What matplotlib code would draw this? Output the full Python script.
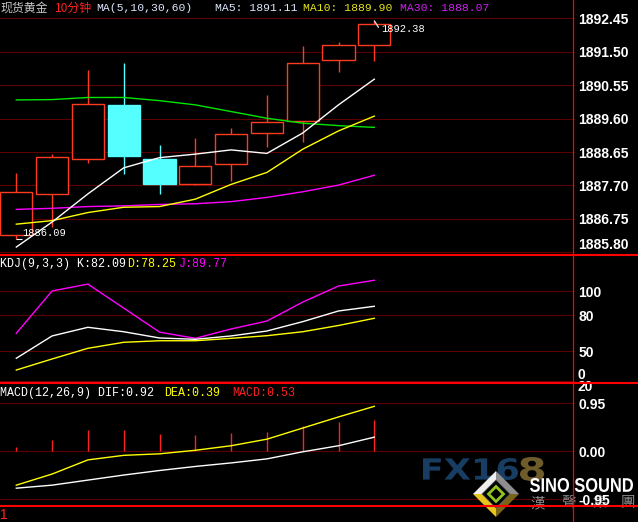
import matplotlib
matplotlib.use('Agg')
import matplotlib.pyplot as plt
from matplotlib.patches import Polygon, PathPatch
from matplotlib.textpath import TextPath
from matplotlib.font_manager import FontProperties
from matplotlib.transforms import Affine2D
from matplotlib.lines import Line2D

# ---------------- data ----------------
opens  = [1886.28, 1887.45, 1888.46, 1889.99, 1888.45, 1887.75, 1888.32, 1889.20, 1889.52, 1891.27, 1891.68]
closes = [1887.51, 1888.50, 1890.01, 1888.55, 1887.75, 1888.25, 1889.15, 1889.49, 1891.18, 1891.68, 1892.28]
highs  = [1888.05, 1888.59, 1890.98, 1891.18, 1888.85, 1889.06, 1889.33, 1890.27, 1891.66, 1891.78, 1892.38]
lows   = [1886.17, 1886.53, 1888.35, 1888.03, 1887.47, 1887.71, 1887.83, 1888.80, 1888.94, 1890.93, 1891.25]

ma5  = [1885.95, 1886.66, 1887.46, 1888.20, 1888.49, 1888.59, 1888.71, 1888.61, 1889.19, 1889.99, 1890.72]
ma10 = [1886.60, 1886.70, 1886.93, 1887.08, 1887.10, 1887.31, 1887.73, 1888.07, 1888.73, 1889.25, 1889.67]
ma30 = [1887.02, 1887.05, 1887.10, 1887.12, 1887.16, 1887.18, 1887.24, 1887.36, 1887.52, 1887.71, 1887.99]
ma60 = [1890.13, 1890.14, 1890.20, 1890.20, 1890.11, 1889.99, 1889.80, 1889.61, 1889.47, 1889.40, 1889.35]

kdj_k = [44.2, 62.8, 70.0, 66.3, 61.1, 60.0, 62.8, 66.9, 74.7, 83.6, 87.5]
kdj_d = [34.4, 43.6, 52.5, 57.5, 58.8, 58.8, 60.8, 63.0, 66.3, 71.5, 77.5]
kdj_j = [65.0, 100.3, 106.0, 86.0, 66.0, 60.8, 68.6, 75.2, 91.0, 104.4, 109.2]

macd_bar    = [0.085, 0.22, 0.42, 0.42, 0.34, 0.32, 0.37, 0.38, 0.50, 0.58, 0.62]
macd_yellow = [-0.67, -0.45, -0.17, -0.08, -0.05, 0.02, 0.11, 0.24, 0.46, 0.68, 0.89]
macd_white  = [-0.73, -0.67, -0.57, -0.47, -0.38, -0.30, -0.23, -0.15, -0.01, 0.11, 0.28]

price_ticks = [1892.45, 1891.50, 1890.55, 1889.60, 1888.65, 1887.70, 1886.75, 1885.80]
kdj_ticks = [100, 80, 50]
kdj_grid = [100, 80, 50, 25.25]
macd_ticks = [0.95, 0.00, -0.95]

low_label = "1886.09"
high_label = "1892.38"

header_main = ["现货黄金", "10分钟", "MA(5,10,30,60)", "MA5: 1891.11", "MA10: 1889.90", "MA30: 1888.07"]
header_kdj = ["KDJ(9,3,3) K:82.09", "D:78.25", "J:89.77"]
header_macd = ["MACD(12,26,9) DIF:0.92", "DEA:0.39", "MACD:0.53"]

# ---------------- style ----------------
UP = '#ff3b1f'
DOWN = '#55ffff'
GRID = '#5c0000'
RED = '#ff0000'
MONO = 'Liberation Mono'
LAB = 'Liberation Sans'

W, H = 638, 522
fig = plt.figure(figsize=(W / 100, H / 100), dpi=100, facecolor='black')
pix = Affine2D().scale(1 / W, -1 / H).translate(0, 1) + fig.transFigure


def rect(x0, y0, x1, y1):
    return [x0 / W, 1 - y1 / H, (x1 - x0) / W, (y1 - y0) / H]


XLIM = (-16.3 / 35.8, (573 - 16.3) / 35.8)
idx = list(range(len(opens)))


def setup(ax, ylim, ticks, labels, grid):
    ax.set_facecolor('black')
    ax.set_xlim(*XLIM)
    ax.set_ylim(*ylim)
    for s in ax.spines.values():
        s.set_visible(False)
    ax.set_xticks([])
    ax.yaxis.tick_right()
    ax.set_yticks(ticks)
    ax.set_yticklabels(labels)
    ax.tick_params(axis='y', length=0, pad=4, labelcolor='white', labelsize=10)
    for lb in ax.get_yticklabels():
        lb.set_fontfamily(LAB)
        lb.set_fontweight('bold')
    for g in grid:
        ax.axhline(g, color=GRID, lw=0.8, zorder=0.5)


# ---------------- main price panel ----------------
ax = fig.add_axes(rect(0, 0, 573, 254.7))
setup(ax, (1885.732, 1892.970), price_ticks, [f'{t:.2f}' for t in price_ticks], price_ticks)
ax.get_yticklabels()[-1].set_va('bottom')

for i in idx:
    o, c, h, l = opens[i], closes[i], highs[i], lows[i]
    up = c >= o
    col = UP if up else DOWN
    ax.vlines(i, l, h, color=col, lw=1.0, zorder=2)
    ax.bar(i, c - o, bottom=o, width=0.9, facecolor='black' if up else DOWN,
           edgecolor=col, lw=1.0, zorder=3)

ax.plot(idx, ma60, color='#00e600', lw=1.0, zorder=4)
ax.plot(idx, ma30, color='#ff00ff', lw=1.0, zorder=4)
ax.plot(idx, ma10, color='#ffff00', lw=1.0, zorder=4)
ax.plot(idx, ma5, color='white', lw=1.0, zorder=4)

# low / high markers
ax.hlines(lows[0], 0, 0.17, color='white', lw=0.8, zorder=5)
ax.annotate(low_label, xy=(0, lows[0]), xytext=(6, 6), textcoords='offset pixels',
            color='white', fontsize=7.5, family=MONO, ha='left', va='center', zorder=6)
ax.annotate(high_label, xy=(10, highs[10]), xytext=(7, -8), textcoords='offset pixels',
            color='white', fontsize=7.5, family=MONO, ha='left', va='center', zorder=6,
            arrowprops=dict(arrowstyle='-', color='white', lw=0.8, shrinkA=0, shrinkB=0,
                            relpos=(0, 0.2)))

# ---------------- KDJ panel ----------------
ak = fig.add_axes(rect(0, 254.7, 573, 383.3))
setup(ak, (23.33, 130.5), kdj_ticks, [str(t) for t in kdj_ticks], kdj_grid)
ak.plot(idx, kdj_j, color='#ff00ff', lw=1.0)
ak.plot(idx, kdj_k, color='white', lw=1.0)
ak.plot(idx, kdj_d, color='#ffff00', lw=1.0)
ak.text(1.007, 30.0, '0', transform=ak.get_yaxis_transform(), color='white', fontsize=10,
        family=LAB, weight='bold', va='center', ha='left', clip_on=False)
ak.text(1.007, 20.0, '20', transform=ak.get_yaxis_transform(), color='white', fontsize=10,
        family=LAB, weight='bold', va='center', ha='left', clip_on=False)

# ---------------- MACD panel ----------------
am = fig.add_axes(rect(0, 383.3, 573, 506))
setup(am, (-1.0825, 1.3457), macd_ticks, [f'{t:.2f}' for t in macd_ticks], macd_ticks)
am.vlines(idx, 0, macd_bar, color='#ff2020', lw=1.0, zorder=3)
am.plot(idx, macd_yellow, color='#ffff00', lw=1.0, zorder=4)
am.plot(idx, macd_white, color='white', lw=1.0, zorder=4)


# ---------------- watermark logo (pixel coords) ----------------
def text_box(axis, s, x0, x1, ytop, ybot, color, family, weight='bold', alpha=1.0):
    tp = TextPath((0, 0), s, size=100, prop=FontProperties(family=family, weight=weight))
    bb = tp.get_extents()
    sx = (x1 - x0) / bb.width
    sy = (ybot - ytop) / bb.height
    tr = Affine2D().translate(-bb.x0, -bb.y0).scale(sx, -sy).translate(x0, ybot) + pix
    axis.add_patch(PathPatch(tp, facecolor=color, edgecolor='none', transform=tr,
                             clip_on=False, zorder=1, alpha=alpha))


text_box(am, "FX16", 423, 518, 458, 480, '#183d63', 'DejaVu Sans')
text_box(am, "8", 520, 544, 457, 481, '#6e5c2a', 'DejaVu Sans')
text_box(am, "SINO SOUND", 530, 633, 478, 492, 'white', LAB)
for ch, cx in zip("漢聲集團", [538, 569, 600, 628]):
    am.text(cx, 503, ch, transform=pix, color='#8c8c8c', fontsize=10.5,
            family='Noto Sans CJK TC', ha='center', va='center', clip_on=False, zorder=1)

cx, cy, R, r = 496, 494, 23, 14
T, Rr, B, L = (cx, cy - R), (cx + R, cy), (cx, cy + R), (cx - R, cy)
t, rr, b, l = (cx, cy - r), (cx + r, cy), (cx, cy + r), (cx - r, cy)
for pts, col in [([L, T, t, l], '#eeeeee'), ([T, Rr, rr, t], '#8e8e8e'),
                 ([Rr, B, b, rr], '#7a6418'), ([B, L, l, b], '#e6c41c')]:
    am.add_patch(Polygon(pts, closed=True, facecolor=col, edgecolor='none',
                         transform=pix, clip_on=False, zorder=1))
am.add_patch(Polygon([t, rr, b, l], closed=True, facecolor='black', edgecolor='#606060', lw=0.6,
                     transform=pix, clip_on=False, zorder=1))
g = 7.5
am.add_patch(Polygon([(cx, cy - g), (cx + g, cy), (cx, cy + g), (cx - g, cy)], closed=True,
                     facecolor='black', edgecolor='#92c41e', lw=2.0,
                     transform=pix, clip_on=False, zorder=1))

# ---------------- headers ----------------
def htext(x, y, s, color, family=MONO, size=8.2):
    fig.text(x, y, s, transform=pix, color=color, fontsize=size, family=family,
             ha='left', va='center')


htext(0, 8, header_main[0], '#c8c8c8', family=['Noto Sans CJK SC', 'DejaVu Sans'], size=8.6)
htext(55, 8, header_main[1], '#ff2020', family=['Noto Sans CJK SC', 'DejaVu Sans'], size=8.6)
htext(96, 8, header_main[2], '#dfe8ff')
htext(215, 8, header_main[3], '#dfe8ff')
htext(303, 8, header_main[4], '#e6e61e')
htext(400, 8, header_main[5], '#d020f0')

htext(0, 264, header_kdj[0], 'white', size=8.4)
htext(127, 264, header_kdj[1], '#ffff00', size=8.4)
htext(178, 264, header_kdj[2], '#ff00ff', size=8.4)

htext(0, 393, header_macd[0], 'white', size=8.4)
htext(164, 393, header_macd[1], '#ffff00', size=8.4)
htext(232, 393, header_macd[2], '#ff2020', size=8.4)

htext(0, 515, "1", '#ff2020', family=LAB, size=10)

# ---------------- frame lines ----------------
for yy in (254.7, 383.3, 506):
    fig.add_artist(Line2D([0, W], [yy, yy], transform=pix, color=RED, lw=1.5, zorder=10))
fig.add_artist(Line2D([573.3, 573.3], [0, H], transform=pix, color=RED, lw=0.9, zorder=10))

fig.savefig('out.png', dpi=100, facecolor='black')
